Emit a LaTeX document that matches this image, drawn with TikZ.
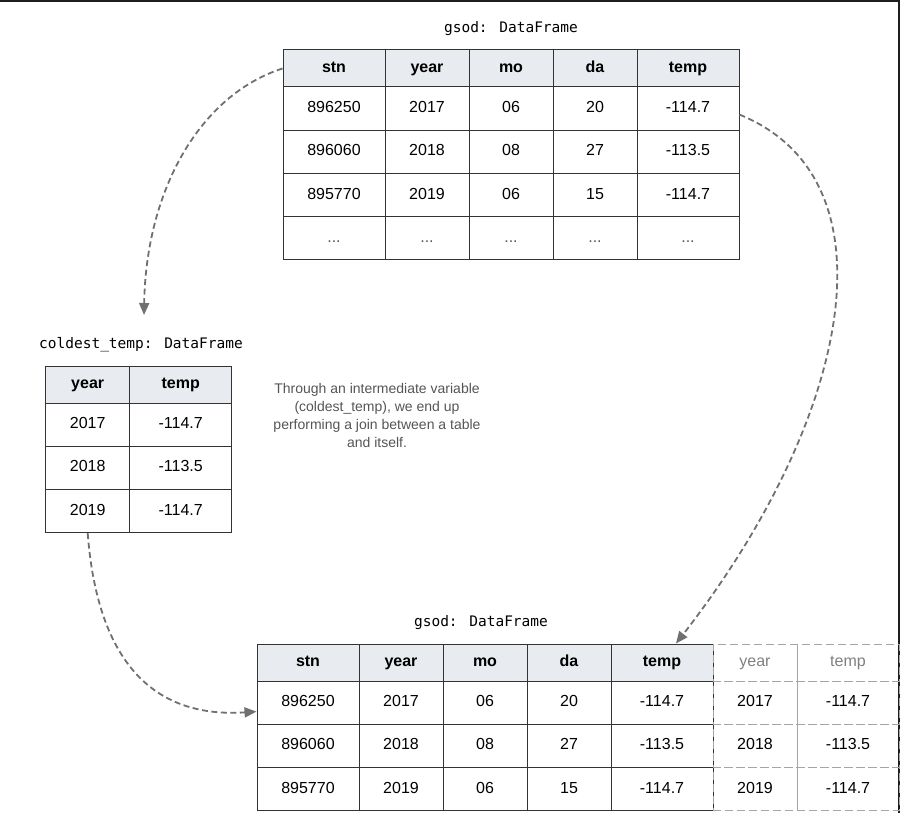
\documentclass[tikz,border=0pt]{standalone}
\usepackage{fontspec}
\setmainfont{Liberation Sans}
\newfontfamily\codefont{DejaVu Sans Mono}
\usetikzlibrary{arrows.meta}
\definecolor{linec}{RGB}{51,51,51}
\definecolor{headc}{RGB}{232,236,240}
\definecolor{dashc}{RGB}{165,165,165}
\definecolor{arrowc}{RGB}{112,112,112}
\definecolor{notec}{RGB}{85,85,85}
\definecolor{framec}{RGB}{30,30,30}
\begin{document}
\begin{tikzpicture}[x=1pt, y=1pt,
        cell/.style={draw=linec, line width=1pt, inner sep=0pt, minimum height=43.2pt,
            text height=11.6pt, text depth=3.4pt, font=\fontsize{16}{19}\selectfont},
        head/.style={cell, fill=headc, minimum height=37pt, font=\fontsize{16}{19}\selectfont\bfseries},
        wide/.style={minimum width=102pt},
        narrow/.style={minimum width=84pt},
        ghost/.style={cell, draw=dashc, dash pattern=on 8pt off 4pt},
        ghosthead/.style={ghost, minimum height=37pt, text=gray},
        dots/.style={text=notec},
        title/.style={font=\codefont\fontsize{14.5}{17}\selectfont},
        note/.style={align=center, text=notec, font=\fontsize{14}{18}\selectfont},
        link/.style={draw=arrowc, line width=1.8pt, dash pattern=on 6pt off 3.5pt,
            -{Triangle[length=12pt,width=10pt]}}]
\useasboundingbox (0,0) rectangle (901,-813);
\draw[framec, line width=2pt] (0,-1) -- (899,-1) -- (899,-813);

% gsod
\node[title] (gsodname) at (511,-29) {gsod: DataFrame};
\node[head, wide]   (g01) at (334,-68.5) {stn};
\node[head, narrow] (g02) at (427,-68.5) {year};
\node[head, narrow] (g03) at (511,-68.5) {mo};
\node[head, narrow] (g04) at (595,-68.5) {da};
\node[head, wide]   (g05) at (688,-68.5) {temp};
\node[cell, wide]   (g11) at (334,-108.6) {896250};
\node[cell, narrow] (g12) at (427,-108.6) {2017};
\node[cell, narrow] (g13) at (511,-108.6) {06};
\node[cell, narrow] (g14) at (595,-108.6) {20};
\node[cell, wide]   (g15) at (688,-108.6) {-114.7};
\node[cell, wide]   (g21) at (334,-151.8) {896060};
\node[cell, narrow] (g22) at (427,-151.8) {2018};
\node[cell, narrow] (g23) at (511,-151.8) {08};
\node[cell, narrow] (g24) at (595,-151.8) {27};
\node[cell, wide]   (g25) at (688,-151.8) {-113.5};
\node[cell, wide]   (g31) at (334,-195) {895770};
\node[cell, narrow] (g32) at (427,-195) {2019};
\node[cell, narrow] (g33) at (511,-195) {06};
\node[cell, narrow] (g34) at (595,-195) {15};
\node[cell, wide]   (g35) at (688,-195) {-114.7};
\node[cell, wide, dots]   (g41) at (334,-238.2) {...};
\node[cell, narrow, dots] (g42) at (427,-238.2) {...};
\node[cell, narrow, dots] (g43) at (511,-238.2) {...};
\node[cell, narrow, dots] (g44) at (595,-238.2) {...};
\node[cell, wide, dots]   (g45) at (688,-238.2) {...};

% coldest_temp
\node[title] (coldname) at (141,-345) {coldest\_temp: DataFrame};
\node[head, narrow] (c01) at (87.7,-384.5) {year};
\node[head, wide]   (c02) at (180.7,-384.5) {temp};
\node[cell, narrow] (c11) at (87.7,-424.6) {2017};
\node[cell, wide]   (c12) at (180.7,-424.6) {-114.7};
\node[cell, narrow] (c21) at (87.7,-467.8) {2018};
\node[cell, wide]   (c22) at (180.7,-467.8) {-113.5};
\node[cell, narrow] (c31) at (87.7,-511) {2019};
\node[cell, wide]   (c32) at (180.7,-511) {-114.7};

\node[note] (note) at (377,-415) {Through an intermediate variable\\(coldest\_temp), we end up\\performing a join between a table\\and itself.};

% joined gsod
\node[title] (joinname) at (481,-623) {gsod: DataFrame};
\node[head, wide]   (j01) at (308,-662.5) {stn};
\node[head, narrow] (j02) at (401,-662.5) {year};
\node[head, narrow] (j03) at (485,-662.5) {mo};
\node[head, narrow] (j04) at (569,-662.5) {da};
\node[head, wide]   (j05) at (662,-662.5) {temp};
\node[cell, wide]   (j11) at (308,-702.6) {896250};
\node[cell, narrow] (j12) at (401,-702.6) {2017};
\node[cell, narrow] (j13) at (485,-702.6) {06};
\node[cell, narrow] (j14) at (569,-702.6) {20};
\node[cell, wide]   (j15) at (662,-702.6) {-114.7};
\node[cell, wide]   (j21) at (308,-745.8) {896060};
\node[cell, narrow] (j22) at (401,-745.8) {2018};
\node[cell, narrow] (j23) at (485,-745.8) {08};
\node[cell, narrow] (j24) at (569,-745.8) {27};
\node[cell, wide]   (j25) at (662,-745.8) {-113.5};
\node[cell, wide]   (j31) at (308,-789) {895770};
\node[cell, narrow] (j32) at (401,-789) {2019};
\node[cell, narrow] (j33) at (485,-789) {06};
\node[cell, narrow] (j34) at (569,-789) {15};
\node[cell, wide]   (j35) at (662,-789) {-114.7};
\node[ghosthead, narrow] (j06) at (755,-662.5) {year};
\node[ghosthead, wide]   (j07) at (848,-662.5) {temp};
\node[ghost, narrow] (j16) at (755,-702.6) {2017};
\node[ghost, wide]   (j17) at (848,-702.6) {-114.7};
\node[ghost, narrow] (j26) at (755,-745.8) {2018};
\node[ghost, wide]   (j27) at (848,-745.8) {-113.5};
\node[ghost, narrow] (j36) at (755,-789) {2019};
\node[ghost, wide]   (j37) at (848,-789) {-114.7};

\coordinate (coldin) at (144,-315);
\draw[link] (g01.west) .. controls (200,-95) and (146,-190) .. (coldin);
\draw[link] ([yshift=-6pt]g15.east) .. controls (900,-180) and (850,-420) .. ([xshift=14pt]j05.north);
\draw[link] (c31.south) .. controls (98,-670) and (160,-718) .. ([yshift=-9pt]j11.west);

\end{tikzpicture}
\end{document}
